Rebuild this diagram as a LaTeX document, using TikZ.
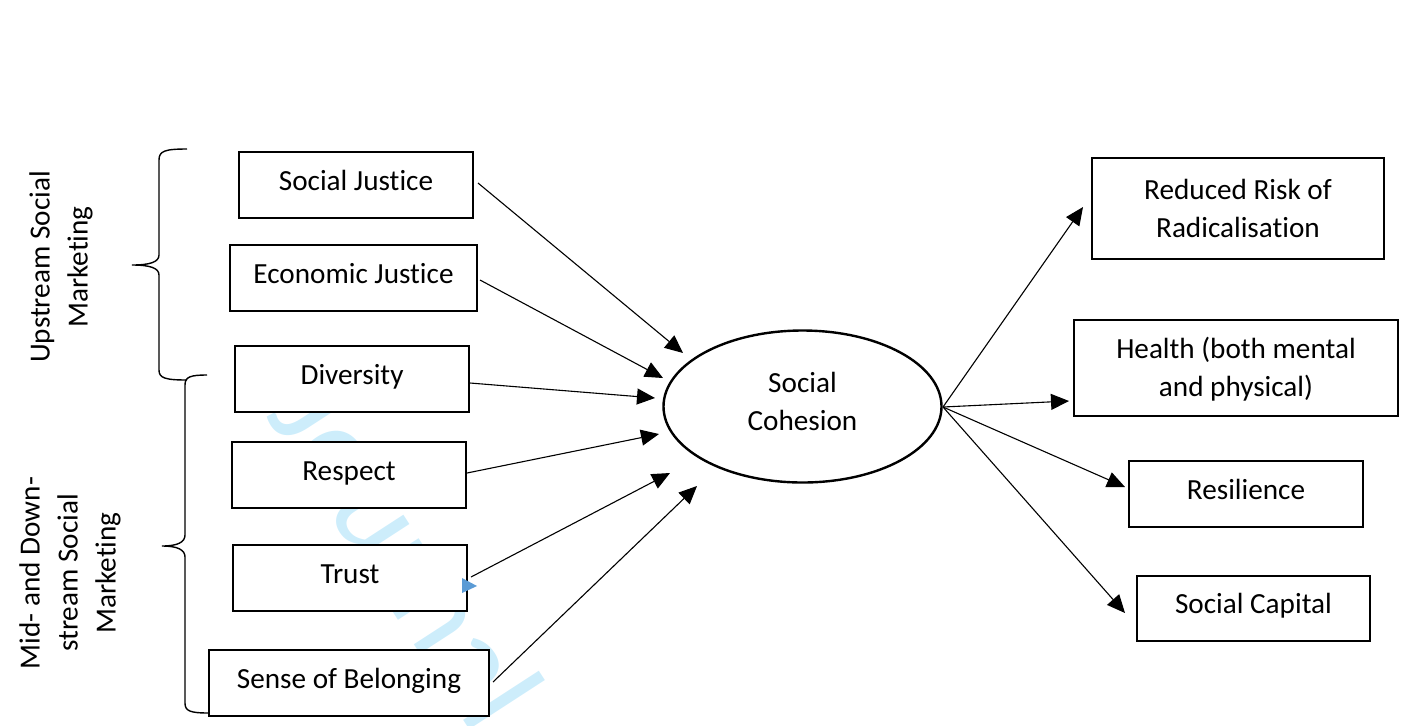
\documentclass[tikz,border=0pt]{standalone}
\usepackage{fontspec}
\setmainfont{Carlito}[RawFeature={-liga}]
\usetikzlibrary{shapes.geometric,arrows.meta}
\definecolor{wm}{RGB}{205,237,251}
\definecolor{tipblue}{RGB}{91,155,213}
\begin{document}
\begin{tikzpicture}[x=0.5pt,y=-0.5pt,
  every node/.style={font=\fontsize{14.6}{19}\selectfont},
  box/.style={draw,line width=0.7pt,fill=white,inner sep=0pt,align=center,minimum height=33pt,text height=10pt,text depth=4.6pt},
  twoline/.style={text height=29pt,text depth=0.5pt},
  conn/.style={line width=0.55pt,-{Triangle[length=9pt,width=8pt]}},
  brace/.style={line width=0.7pt}]
\useasboundingbox (0,0) rectangle (1408,725);
\begin{scope}
\clip (0,0) rectangle (1408,725);
\node[wm,rotate=-57,anchor=base west,font=\fontsize{65}{72}\selectfont] (wmark) at (262,410) {Journal};
\end{scope}

% left boxes
\node[box,minimum width=117pt] (sj) at (356,185) {Social Justice};
\node[box,minimum width=123.5pt] (ej) at (353.5,278) {Economic Justice};
\node[box,minimum width=117pt] (dv) at (352,379) {Diversity};
\node[box,minimum width=117pt] (rs) at (349,475) {Respect};
\node[box,minimum width=117pt] (tr) at (350,578) {Trust};
\node[box,minimum width=140pt] (sb) at (349,683) {Sense of Belonging};

% ellipse
\node[ellipse,draw,line width=1.2pt,minimum width=139pt,minimum height=76pt,inner sep=0pt,align=center,text height=24pt,text depth=0pt] (sc) at (802.5,406.5) {Social\\Cohesion};

% right boxes
\node[box,twoline,minimum width=146pt,minimum height=50.5pt] (rr) at (1238,208.5) {Reduced Risk of\\Radicalisation};
\node[box,twoline,minimum width=162pt,minimum height=48pt] (he) at (1236,368) {Health (both mental\\and physical)};
\node[box,minimum width=117pt] (re) at (1246,494) {Resilience};
\node[box,minimum width=116.5pt,minimum height=32.5pt] (ca) at (1253.5,608.5) {Social Capital};

% connector end points
\coordinate (s1) at (478,183);
\coordinate (s2) at (480,280);
\coordinate (s3) at (470,383);
\coordinate (s4) at (467,473);
\coordinate (s5) at (471,577);
\coordinate (s6) at (493,682);
\coordinate (t1) at (683,353);
\coordinate (t2) at (663,378);
\coordinate (t3) at (655,398);
\coordinate (t4) at (659,434);
\coordinate (t5) at (670,473);
\coordinate (t6) at (697,486);
\coordinate (o)  at (943,407);
\coordinate (u1) at (1083,207);
\coordinate (u2) at (1069,401);
\coordinate (u3) at (1125,487);
\coordinate (u4) at (1125,613);

\draw[conn] (s1) -- (t1);
\draw[conn] (s2) -- (t2);
\draw[conn] (s3) -- (t3);
\draw[conn] (s4) -- (t4);
\draw[conn] (s5) -- (t5);
\draw[conn] (s6) -- (t6);
\draw[conn] (o) -- (u1);
\draw[conn] (o) -- (u2);
\draw[conn] (o) -- (u3);
\draw[conn] (o) -- (u4);

% stray blue tip
\fill[tipblue] (462,578) -- (477,586) -- (462,593) -- cycle;

% braces
\draw[brace] (187,149) .. controls (165,149) and (159,151) .. (159,160) -- (159,255)
  .. controls (159,262) and (150,265) .. (132,265)
  .. controls (150,265) and (159,268) .. (159,275) -- (159,370)
  .. controls (159,378) and (165,380) .. (187,380);
\draw[brace] (207,375) .. controls (190,375) and (185,377) .. (185,385) -- (185,535)
  .. controls (185,542) and (178,546) .. (162,546)
  .. controls (178,546) and (185,550) .. (185,557) -- (185,703)
  .. controls (185,711) and (190,713) .. (209,713);

% side labels
\node[rotate=90,align=center] (up) at (61,267) {Upstream Social\\Marketing};
\node[rotate=90,align=center] (md) at (70,573) {Mid- and Down-\\stream Social\\Marketing};
\end{tikzpicture}
\end{document}
